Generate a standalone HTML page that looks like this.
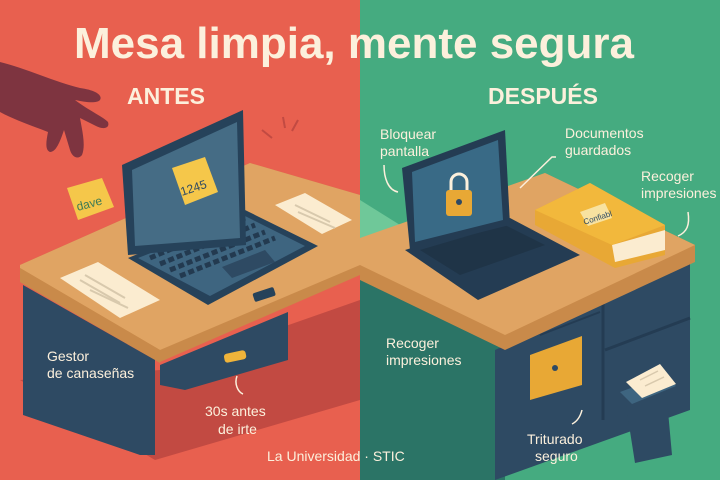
<!DOCTYPE html>
<html><head><meta charset="utf-8"><style>
html,body{margin:0;padding:0;width:720px;height:480px;overflow:hidden}
svg{display:block}
text{font-family:"Liberation Sans","DejaVu Sans",sans-serif;fill:#fcf0dc}
</style></head><body>
<svg width="720" height="480" viewBox="0 0 720 480" xmlns="http://www.w3.org/2000/svg">
<rect x="0" y="0" width="360" height="480" fill="#e8604f"/>
<rect x="360" y="0" width="360" height="480" fill="#45ab80"/>
<polygon points="20,380 155,460 360,400 360,300 160,370" fill="#c24a42"/>
<!-- hand -->
<path d="M0,62 C25,68 55,82 80,88 C95,90 103,95 100,100 C96,104 85,102 75,100 C88,110 105,118 108,122 C110,128 104,130 96,126 L80,118 C82,130 86,145 82,155 C78,160 72,157 70,150 L64,130 C60,142 56,152 50,152 C45,150 46,142 48,132 C30,125 15,120 0,112 Z" fill="#7e3440"/>
<path d="M262,130 L272,138 M283,117 L285,128 M298,120 L292,131" stroke="#c24a42" stroke-width="2"/>
<polygon points="20,265 250,163 360,195 360,275 160,362 20,282" fill="#c98a4a"/>
<polygon points="20,265 250,163 360,195 360,265 160,350 20,268" fill="#e0a463"/>
<polygon points="20,268 160,350 160,363 20,282" fill="#c98a4a"/>
<polygon points="23,285 155,360 155,455 140,455 23,415" fill="#2e4a63"/>
<polygon points="160,365 288,312 288,360 185,390 160,385" fill="#2e4a63"/>
<rect x="224" y="352" width="22" height="9" rx="3" fill="#f0b43a" transform="rotate(-12 235 356)"/>
<path d="M237,376 C234,384 238,392 243,394" stroke="#fcf0dc" stroke-width="1.5" fill="none"/>
<polygon points="60,278 98,262 160,300 120,318" fill="#fbecd0"/>
<polygon points="275,205 305,193 352,220 322,234" fill="#fbecd0"/>
<g stroke="#d8c9ad" stroke-width="2"><line x1="80" y1="280" x2="120" y2="303"/><line x1="85" y1="275" x2="125" y2="298"/><line x1="90" y1="290" x2="128" y2="308"/><line x1="295" y1="205" x2="330" y2="222"/><line x1="298" y1="212" x2="335" y2="228"/></g>
<polygon points="128,258 245,210 318,246 208,305" fill="#26425a"/>
<polygon points="138,258 245,216 305,246 210,296" fill="#3e6580"/>
<g stroke="#233a50" stroke-width="5" stroke-dasharray="6 3"><line x1="150" y1="258" x2="245" y2="218"/><line x1="160" y1="264" x2="255" y2="225"/><line x1="170" y1="270" x2="265" y2="232"/><line x1="180" y1="276" x2="275" y2="238"/></g>
<polygon points="222,267 265,250 275,262 232,278" fill="#2e4a63"/>
<polygon points="122,165 243,110 246,245 128,255" fill="#26425a"/>
<polygon points="132,170 237,122 240,238 135,246" fill="#456c85"/>
<polygon points="172,168 205,157 218,192 185,205" fill="#f5c74a"/>
<text x="180" y="193" font-size="12" style="fill:#2e4a63" transform="rotate(-18 190 188)">1245</text>
<rect x="253" y="290" width="22" height="9" rx="2" fill="#26425a" transform="rotate(-18 264 294)"/>
<polygon points="67,188 102,178 114,207 78,220" fill="#f5c74a"/>
<text x="76" y="208" font-size="12" style="fill:#3c7a55" transform="rotate(-15 88 203)">dave</text>
<!-- right side -->
<polygon points="360,200 400,225 360,245" fill="#6fc899"/>
<polygon points="360,275 505,350 505,480 360,480" fill="#2b7466"/>
<polygon points="495,350 690,262 690,410 495,480" fill="#2e4a63"/>
<line x1="603" y1="300" x2="603" y2="420" stroke="#243c53" stroke-width="3"/>
<line x1="605" y1="350" x2="690" y2="318" stroke="#243c53" stroke-width="3"/>
<line x1="540" y1="335" x2="600" y2="312" stroke="#243c53" stroke-width="2"/>
<polygon points="530,355 582,336 582,385 530,400" fill="#e8a835"/>
<circle cx="555" cy="368" r="3" fill="#2e4a63"/>
<polygon points="360,240 545,173 695,245 695,262 505,350 360,280" fill="#c98a4a"/>
<polygon points="360,238 545,173 695,245 505,335 360,265" fill="#e0a463"/>
<polygon points="405,250 510,218 580,255 478,300" fill="#243c53"/>
<polygon points="420,250 505,225 545,245 460,275" fill="#1f3447"/>
<polygon points="402,168 505,130 510,225 410,250" fill="#243c53"/>
<polygon points="412,172 498,140 503,220 415,242" fill="#396a86"/>
<rect x="446" y="190" width="26" height="26" rx="3" fill="#e8a835"/>
<path d="M451,190 v-8 a8,8 0 0 1 16,0 v8" stroke="#fcf0dc" stroke-width="3" fill="none"/>
<circle cx="459" cy="202" r="3" fill="#2e4a63"/>
<polygon points="535,210 590,183 665,225 665,255 615,268 535,225" fill="#e8a835"/>
<polygon points="612,245 665,230 665,250 615,262" fill="#fbecd0"/>
<polygon points="535,210 590,183 665,225 612,245" fill="#f2b83c"/>
<polygon points="580,212 605,203 612,218 588,226" fill="#f8e2a0"/>
<text x="582" y="221" font-size="8" style="fill:#2e4a63" transform="rotate(-18 595 215)">Confiabl</text>
<!-- shredder bin -->
<polygon points="624,393 665,378 672,455 635,463" fill="#2e4a63"/>
<polygon points="620,392 664,376 676,386 632,404" fill="#3e6580"/>
<polygon points="626,382 660,364 676,384 642,398" fill="#fbecd0"/>
<g stroke="#d8c9ad" stroke-width="1.5"><line x1="640" y1="380" x2="658" y2="371"/><line x1="645" y1="386" x2="664" y2="377"/></g>
<g stroke="#fcf0dc" stroke-width="1.5" fill="none">
<path d="M384,165 C384,178 388,190 398,192"/>
<path d="M520,188 L552,157 L556,157"/>
<path d="M688,212 C690,225 687,232 678,236"/>
<path d="M582,410 C580,418 576,422 572,424"/>
</g>
<text x="354" y="58" font-size="44" font-weight="bold" text-anchor="middle">Mesa limpia, mente segura</text>
<text x="166" y="104" font-size="23" font-weight="bold" text-anchor="middle">ANTES</text>
<text x="543" y="104" font-size="23" font-weight="bold" text-anchor="middle">DESPUÉS</text>
<g font-size="14">
<text x="47" y="361">Gestor</text>
<text x="47" y="378">de canaseñas</text>
<text x="205" y="416">30s antes</text>
<text x="218" y="434">de irte</text>
<text x="380" y="139">Bloquear</text>
<text x="380" y="156">pantalla</text>
<text x="565" y="138">Documentos</text>
<text x="565" y="155">guardados</text>
<text x="641" y="181">Recoger</text>
<text x="641" y="198">impresiones</text>
<text x="386" y="348">Recoger</text>
<text x="386" y="365">impresiones</text>
<text x="527" y="444">Triturado</text>
<text x="535" y="461">seguro</text>
<text x="267" y="461">La Universidad · STIC</text>
</g>
</svg>
</body></html>
